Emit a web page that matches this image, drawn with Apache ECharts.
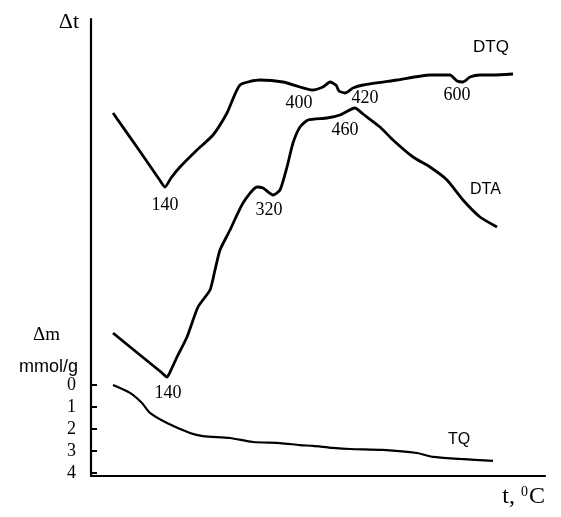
<!DOCTYPE html>
<html>
<head>
<meta charset="utf-8">
<script src="https://cdn.jsdelivr.net/npm/echarts@6/dist/echarts.min.js"></script>
<style>
html,body{margin:0;padding:0;background:#fff;}
#chart{width:561px;height:517px;}
</style>
</head>
<body>
<div id="chart"></div>
<script>
// Curves (x: arbitrary temperature-axis units, y: arbitrary Δt units)
var dtqX = [22,48,68,74,80,89,106,122,136,149,169,192,209,221,232,239,245,248,254,262,272,306,339,359,366,372,379,389,402,422];
var dtqY = [363,326,297,289,298,309,326,341,363,391,396,394,389,386,389,394,391,385,383,388,391,396,401,401,395,394,399,401,401,402];
var dtaX = [22,49,70,76,80,86,96,107,119,124,129,139,152,166,172,182,189,196,202,209,217,236,249,264,272,289,302,322,339,356,372,389,406];
var dtaY = [143,121,104,99,106,119,139,169,186,206,226,246,273,289,288,281,286,309,333,349,356,358,361,368,362,349,336,319,309,296,276,259,249];
// TQ: mass loss, mmol/g
var tqX = [22,39,51,59,76,99,112,139,162,189,209,222,242,259,292,326,342,369,402];
var tqY = [0,0.36,0.82,1.27,1.73,2.18,2.32,2.41,2.59,2.64,2.73,2.77,2.86,2.91,2.95,3.09,3.27,3.36,3.45];
var tqTicks = [0,1,2,3,4];
// peak annotations: [series, x, y, text]
var peakSeries = ['DTQ','DTA','DTA','DTQ','DTQ','DTA','DTQ'];
var peakX = [74,76,182,221,254,264,369];
var peakY = [289,99,281,386,383,368,394];
var peakText = ['140','140','320','400','420','460','600'];
var peakOffset = [[0,18],[1,16],[-4,15],[-13,13],[20,5],[-10,22],[-3,13]];

function zip(xs, ys){ return xs.map(function(x,i){ return [x, ys[i]]; }); }
function marks(name){
  var out = [];
  peakSeries.forEach(function(s,i){
    if (s === name) out.push({coord:[peakX[i], peakY[i]], value: peakText[i],
      label:{offset: peakOffset[i]}});
  });
  return out;
}
var serif = '"Liberation Serif", "Times New Roman", serif';
var sans = '"Liberation Sans", Arial, sans-serif';
var lineStyle = {color:'#000', width:2.8};
var markCfg = function(name){
  return {symbol:'circle', symbolSize:0, silent:true,
    label:{show:true, formatter:'{c}', position:'inside', color:'#000', fontFamily:serif, fontSize:18},
    data: marks(name)};
};

var chart = echarts.init(document.getElementById('chart'), null, {renderer:'canvas'});
chart.setOption({
  animation:false,
  backgroundColor:'#fff',
  grid:[
    {left:91, right:16, top:19, bottom:41},
    {left:91, right:16, top:385, bottom:44}
  ],
  xAxis:[
    {gridIndex:0, type:'value', min:0, max:454,
     axisLine:{show:true, lineStyle:{color:'#000', width:2.2}},
     axisTick:{show:false}, axisLabel:{show:false}, splitLine:{show:false},
     name:'{a|t, }{s|0}{a|C}', nameLocation:'end', nameGap:0,
     nameTextStyle:{align:'right', verticalAlign:'top', padding:[9,0,0,0],
       rich:{a:{fontFamily:serif, fontSize:24, color:'#000'},
             s:{fontFamily:serif, fontSize:14, color:'#000', verticalAlign:'top', padding:[0,1,10,0]}}}},
    {gridIndex:1, type:'value', min:0, max:454, show:false}
  ],
  yAxis:[
    {gridIndex:0, type:'value', min:0, max:457,
     axisLine:{show:true, lineStyle:{color:'#000', width:2.2}},
     axisTick:{show:false}, axisLabel:{show:false}, splitLine:{show:false},
     name:'Δt', nameLocation:'end', nameGap:-3,
     nameTextStyle:{fontFamily:serif, fontSize:22, color:'#000', align:'right', verticalAlign:'middle', padding:[0,12,0,0]}},
    {gridIndex:1, type:'value', min:0, max:4, interval:1, inverse:true,
     axisLine:{show:false},
     axisTick:{show:true, inside:true, length:6, lineStyle:{color:'#000', width:2}},
     axisLabel:{show:true, margin:15, color:'#000', fontFamily:serif, fontSize:18,
       formatter:function(v){ return tqTicks.indexOf(v) >= 0 ? String(v) : ''; }},
     splitLine:{show:false}}
  ],
  graphic:[
    {type:'text', style:{text:'Δm', x:60, y:335, textAlign:'right', textVerticalAlign:'middle',
      font:'19px ' + serif, fill:'#000'}},
    {type:'text', style:{text:'mmol/g', x:78, y:367, textAlign:'right', textVerticalAlign:'middle',
      font:'18px ' + sans, fill:'#000'}}
  ],
  series:[
    {name:'DTQ', type:'line', xAxisIndex:0, yAxisIndex:0, data:zip(dtqX,dtqY), showSymbol:false, symbol:'none',
     smooth:0.2, lineStyle:lineStyle, markPoint:markCfg('DTQ'),
     endLabel:{show:true, formatter:'{a}', color:'#000', fontFamily:sans, fontSize:17, offset:[-48,-27]}},
    {name:'DTA', type:'line', xAxisIndex:0, yAxisIndex:0, data:zip(dtaX,dtaY), showSymbol:false, symbol:'none',
     smooth:0.2, lineStyle:lineStyle, markPoint:markCfg('DTA'),
     endLabel:{show:true, formatter:'{a}', color:'#000', fontFamily:sans, fontSize:16, offset:[-35,-37]}},
    {name:'TQ', type:'line', xAxisIndex:1, yAxisIndex:1, data:zip(tqX,tqY), showSymbol:false, symbol:'none',
     smooth:0.25, lineStyle:{color:'#000', width:2.2},
     endLabel:{show:true, formatter:'{a}', color:'#000', fontFamily:sans, fontSize:16, offset:[-53,-21]}}
  ]
});
</script>
</body>
</html>
